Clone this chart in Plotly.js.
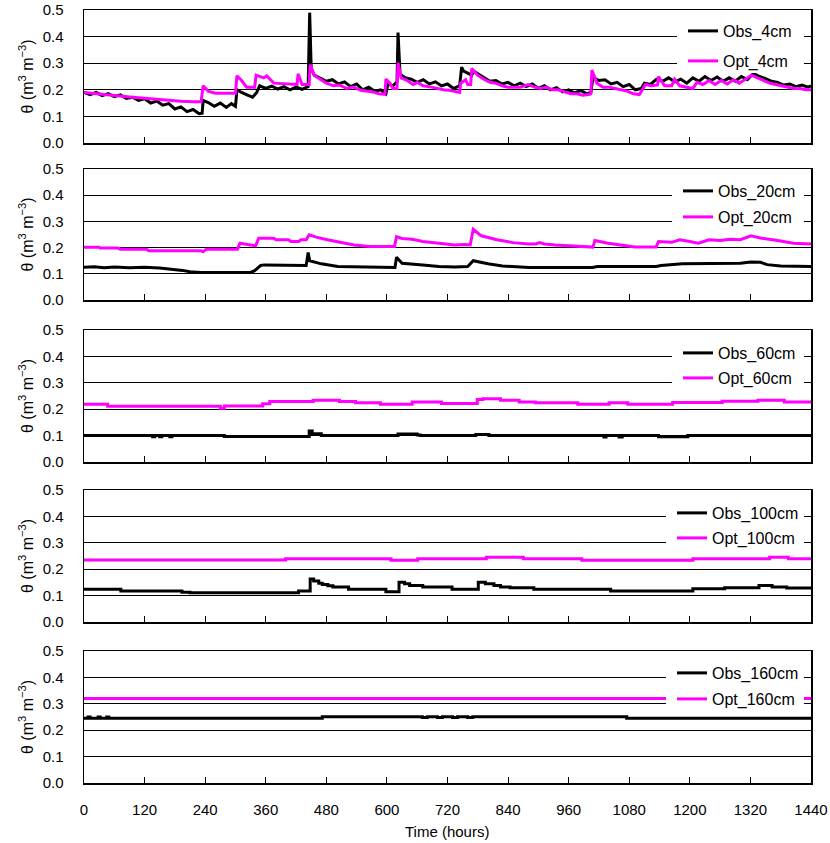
<!DOCTYPE html>
<html>
<head>
<meta charset="utf-8">
<script src="https://cdn.plot.ly/plotly-3.0.1.min.js"></script>
<style>html,body{margin:0;padding:0;background:#fff;}#chart{width:830px;height:843px;}</style>
</head>
<body>
<div id="chart"></div>
<script>
// ---------- DATA (hours, m3/m3) ----------
const xTicks = [0,120,240,360,480,600,720,840,960,1080,1200,1320,1440];
const yTicks = [0.0,0.1,0.2,0.3,0.4,0.5];

// 4 cm
const tObs4 = [0,12,24,36,48,60,72,84,96,108,120,132,144,156,168,180,192,204,216,228,234,236,246,258,270,282,292,300,303,312,324,334,342,348,360,372,384,396,408,420,432,444,447,450,456,468,480,492,504,516,528,540,552,564,576,588,598,602,612,620,622,626,636,648,660,672,684,696,708,720,732,744,748,752,760,768,772,780,792,804,816,828,840,852,864,876,888,900,912,924,936,948,960,972,984,996,1004,1008,1020,1032,1044,1056,1068,1080,1092,1104,1110,1122,1134,1146,1158,1170,1182,1194,1206,1218,1230,1242,1254,1266,1278,1290,1302,1314,1326,1338,1350,1362,1374,1386,1398,1410,1422,1434,1440];
const vObs4 = [0.19,0.182,0.19,0.178,0.186,0.174,0.181,0.168,0.172,0.16,0.166,0.15,0.158,0.142,0.148,0.128,0.136,0.118,0.126,0.11,0.112,0.16,0.152,0.138,0.15,0.134,0.148,0.138,0.2,0.19,0.18,0.172,0.19,0.215,0.205,0.214,0.203,0.212,0.2,0.21,0.202,0.212,0.49,0.28,0.255,0.245,0.232,0.238,0.222,0.23,0.212,0.222,0.2,0.21,0.195,0.2,0.185,0.222,0.215,0.23,0.415,0.26,0.245,0.24,0.228,0.238,0.222,0.23,0.215,0.222,0.205,0.215,0.285,0.27,0.262,0.255,0.27,0.26,0.245,0.232,0.235,0.222,0.228,0.215,0.225,0.212,0.222,0.205,0.215,0.2,0.208,0.192,0.2,0.188,0.198,0.185,0.19,0.245,0.235,0.238,0.222,0.228,0.212,0.22,0.2,0.205,0.225,0.22,0.24,0.232,0.245,0.23,0.24,0.225,0.245,0.232,0.25,0.235,0.248,0.232,0.245,0.232,0.25,0.238,0.262,0.25,0.242,0.232,0.228,0.218,0.222,0.212,0.218,0.21,0.215];
const tOpt4 = [0,24,48,72,96,120,144,168,192,216,232,236,246,260,300,303,312,322,338,341,350,356,362,368,376,422,424,432,446,448,456,468,480,494,506,520,534,548,560,572,584,596,598,606,612,620,622,628,640,652,660,672,688,700,712,724,738,744,746,756,760,766,768,780,792,804,816,828,840,852,864,880,892,904,916,928,940,952,964,976,988,1000,1004,1006,1016,1028,1040,1052,1064,1076,1088,1100,1106,1112,1124,1136,1138,1150,1164,1170,1180,1192,1206,1214,1226,1238,1250,1262,1274,1286,1298,1310,1322,1334,1346,1358,1370,1382,1394,1406,1418,1430,1440];
const vOpt4 = [0.19,0.185,0.18,0.176,0.172,0.168,0.164,0.16,0.157,0.155,0.155,0.215,0.195,0.187,0.187,0.253,0.235,0.21,0.21,0.255,0.25,0.245,0.252,0.24,0.225,0.22,0.26,0.22,0.22,0.295,0.255,0.24,0.225,0.215,0.218,0.205,0.21,0.198,0.195,0.192,0.185,0.183,0.24,0.225,0.205,0.205,0.302,0.245,0.235,0.22,0.228,0.215,0.21,0.205,0.2,0.198,0.192,0.19,0.225,0.238,0.22,0.22,0.28,0.255,0.24,0.228,0.225,0.215,0.21,0.21,0.21,0.22,0.21,0.205,0.21,0.2,0.2,0.192,0.185,0.185,0.18,0.182,0.185,0.274,0.225,0.21,0.21,0.205,0.2,0.195,0.185,0.182,0.2,0.22,0.215,0.218,0.25,0.215,0.215,0.24,0.215,0.21,0.205,0.228,0.22,0.235,0.22,0.235,0.222,0.238,0.225,0.24,0.255,0.245,0.235,0.225,0.22,0.215,0.21,0.205,0.205,0.2,0.2];

// 20 cm
const tObs20 = [0,20,40,60,90,120,150,178,195,210,231,330,338,350,357,440,444,447,470,503,560,610,616,619,630,671,703,734,760,771,800,829,881,1007,1017,1133,1143,1185,1280,1300,1321,1340,1353,1380,1440];
const vObs20 = [0.125,0.127,0.123,0.126,0.123,0.125,0.122,0.118,0.113,0.108,0.105,0.105,0.112,0.132,0.134,0.132,0.181,0.15,0.138,0.128,0.127,0.124,0.124,0.163,0.14,0.134,0.128,0.126,0.128,0.15,0.138,0.13,0.124,0.124,0.128,0.128,0.132,0.138,0.138,0.14,0.145,0.144,0.135,0.13,0.128];
const tOpt20 = [0,30,32,68,72,124,128,232,236,242,304,309,330,340,346,376,380,405,410,425,430,440,446,460,482,514,535,566,615,619,630,650,671,703,734,755,765,771,787,818,850,881,895,902,912,933,986,1008,1012,1038,1070,1091,1133,1138,1164,1180,1200,1217,1238,1260,1280,1300,1321,1342,1374,1405,1440];
const vOpt20 = [0.201,0.201,0.198,0.198,0.194,0.194,0.188,0.188,0.184,0.194,0.194,0.217,0.21,0.207,0.236,0.236,0.23,0.23,0.223,0.223,0.23,0.23,0.249,0.24,0.23,0.219,0.21,0.204,0.204,0.242,0.235,0.232,0.223,0.217,0.21,0.212,0.21,0.27,0.245,0.23,0.219,0.214,0.214,0.219,0.214,0.21,0.204,0.202,0.227,0.217,0.208,0.202,0.202,0.223,0.22,0.23,0.223,0.217,0.23,0.227,0.232,0.23,0.245,0.236,0.227,0.217,0.214];

// 60 cm
const tObs60 = [0,136,140,150,154,170,174,278,446,452,470,622,660,666,776,802,1030,1034,1060,1066,1138,1196,1440];
const vObs60 = [0.1,0.096,0.1,0.096,0.1,0.096,0.1,0.097,0.117,0.107,0.1,0.106,0.102,0.1,0.104,0.1,0.095,0.1,0.095,0.1,0.096,0.1,0.1];
const tOpt60 = [0,47,270,278,354,368,454,506,538,587,650,708,779,790,825,862,894,978,1040,1077,1166,1264,1335,1387,1440];
const vOpt60 = [0.219,0.211,0.204,0.212,0.221,0.229,0.234,0.229,0.224,0.219,0.227,0.222,0.237,0.24,0.234,0.227,0.224,0.219,0.224,0.219,0.225,0.23,0.234,0.227,0.227];

// 100 cm
const tObs100 = [0,73,194,210,425,448,455,465,472,483,493,524,598,624,635,645,671,729,781,795,812,825,844,891,1043,1206,1269,1337,1363,1392,1440];
const vObs100 = [0.124,0.117,0.113,0.111,0.117,0.163,0.155,0.147,0.142,0.137,0.133,0.124,0.115,0.151,0.145,0.138,0.133,0.124,0.151,0.145,0.138,0.133,0.13,0.124,0.117,0.126,0.13,0.138,0.133,0.129,0.129];
const tOpt100 = [0,399,608,661,797,870,986,1206,1358,1395,1440];
const vOpt100 = [0.235,0.24,0.234,0.24,0.245,0.24,0.234,0.24,0.245,0.24,0.24];

// 160 cm
const tObs160 = [0,8,12,28,32,45,49,472,670,680,700,710,730,740,760,770,1075,1440];
const vObs160 = [0.245,0.25,0.245,0.25,0.245,0.25,0.245,0.251,0.248,0.251,0.248,0.251,0.248,0.251,0.248,0.251,0.245,0.245];
const tOpt160 = [0,1440];
const vOpt160 = [0.32,0.32];

const obsNames = ['Obs_4cm','Obs_20cm','Obs_60cm','Obs_100cm','Obs_160cm'];
const optNames = ['Opt_4cm','Opt_20cm','Opt_60cm','Opt_100cm','Opt_160cm'];

// ---------- LAYOUT ----------
const W = 830, H = 843;
const M = {l:84, r:19, t:10, b:60};
const PW = W - M.l - M.r, PH = H - M.t - M.b;
const panelPx = [[10,143],[169,300],[330,462],[490,622],[651,783]]; // top,bottom pixel
const legendPx = [[683,31,61],[678,191,217],[678,353,378],[672,513,538],[672,673,699]];
const py = p => (H - M.b - p) / PH;
const px = p => (p - M.l) / PW;

const series = [
  [tObs4,vObs4,tOpt4,vOpt4,'linear'],
  [tObs20,vObs20,tOpt20,vOpt20,'linear'],
  [tObs60,vObs60,tOpt60,vOpt60,'hv'],
  [tObs100,vObs100,tOpt100,vOpt100,'hv'],
  [tObs160,vObs160,tOpt160,vOpt160,'hv']
];

const FONT = 'Arial, "Liberation Sans", sans-serif';
const data = [];
const layout = {
  width: W, height: H, margin: M, paper_bgcolor:'#fff', plot_bgcolor:'#fff',
  font: {family: FONT, color:'#000', size:15},
  annotations: [], shapes: [], showlegend: true
};

series.forEach((s, i) => {
  const k = i + 1;
  const xa = k === 1 ? 'x' : 'x' + k, ya = k === 1 ? 'y' : 'y' + k;
  const lgObs = 'legend' + (i === 0 ? '' : (2*i+1));
  const lgOpt = 'legend' + (2*i+2);
  data.push({x:s[0], y:s[1], xaxis:xa, yaxis:ya, type:'scatter', mode:'lines', name:obsNames[i],
    line:{color:'#000', width:3, shape:s[4]}, legend:lgObs});
  data.push({x:s[2], y:s[3], xaxis:xa, yaxis:ya, type:'scatter', mode:'lines', name:optNames[i],
    line:{color:'#FF00FF', width:3, shape:s[4]}, legend:lgOpt});
  const [top, bot] = panelPx[i];
  layout['xaxis' + (k === 1 ? '' : k)] = {
    domain:[0,1], anchor:ya, range:[0,1440], tickvals:xTicks, ticktext:xTicks.map(String),
    ticks:'inside', ticklen:6, tickwidth:1, tickcolor:'#000',
    showline:true, linecolor:'#000', linewidth:1.5, mirror:true,
    showgrid:false, zeroline:false, showticklabels: k === 5,
    ticklabelstandoff: 12, tickfont:{size:15, family:FONT}
  };
  layout['yaxis' + (k === 1 ? '' : k)] = {
    domain:[py(bot), py(top)], anchor:xa, range:[0,0.5], tickvals:yTicks, tickformat:'.1f',
    ticks:'', showline:true, linecolor:'#000', linewidth:1.5, mirror:true,
    showgrid:true, gridcolor:'#000', gridwidth:1, zeroline:false,
    ticklabelstandoff: 16, tickfont:{size:15, family:FONT}
  };
  const [lx, yo, yp] = legendPx[i];
  // white box behind the legend (hides grid lines), legends themselves transparent
  layout.shapes.push({type:'rect', xref:'paper', yref:'paper', layer:'above',
    x0:px(lx - 6), x1:px(804), y0:py(yp + 12), y1:py(yo - 12),
    fillcolor:'#fff', line:{width:0}});
  const legBase = {xref:'paper', yref:'paper', x:px(lx), xanchor:'left', yanchor:'middle',
    bgcolor:'rgba(0,0,0,0)', borderwidth:0, font:{size:16, family:FONT, color:'#000'}, itemwidth:30};
  layout[lgObs] = Object.assign({}, legBase, {y:py(yo)});
  layout[lgOpt] = Object.assign({}, legBase, {y:py(yp)});
  layout.annotations.push({
    xref:'paper', yref:'paper', x:px(26), y:py((top+bot)/2), xanchor:'center', yanchor:'middle',
    textangle:-90, showarrow:false, text:'θ (m<sup>3</sup> m<sup>−3</sup>)', font:{size:16, family:FONT}
  });
});

layout.annotations.push({
  xref:'paper', yref:'paper', x:px(447), y:py(831), xanchor:'center', yanchor:'middle',
  showarrow:false, text:'Time (hours)', font:{size:15, family:FONT}
});

Plotly.newPlot('chart', data, layout, {displayModeBar:false, staticPlot:true});
</script>
</body>
</html>
